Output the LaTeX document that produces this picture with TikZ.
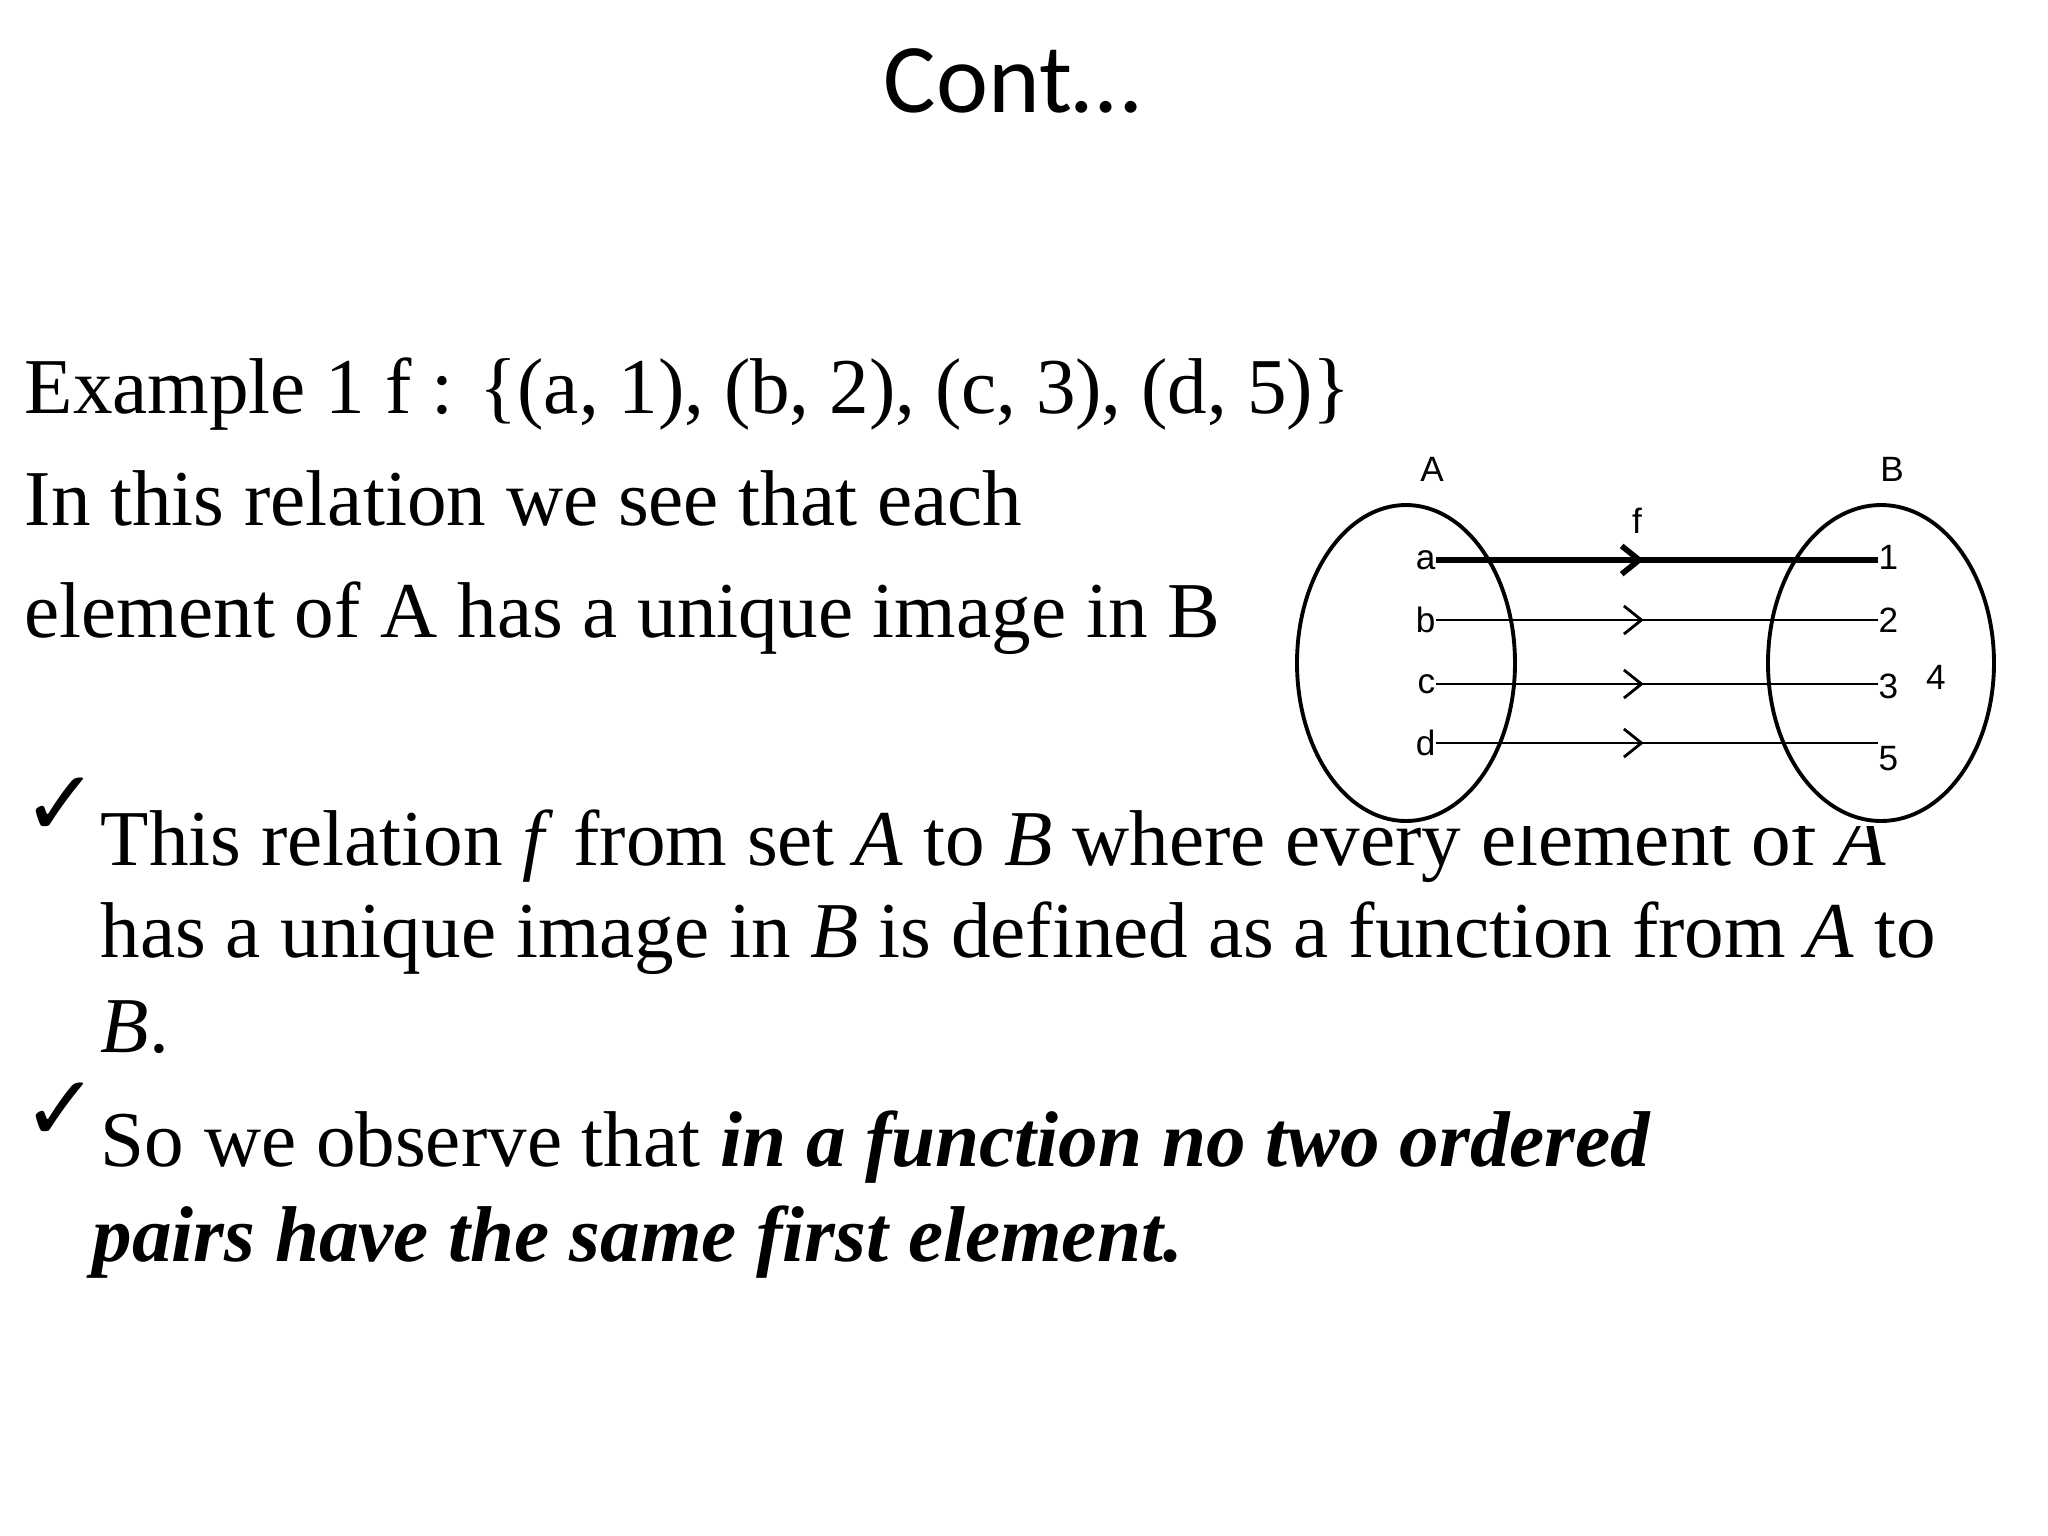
\documentclass[tikz,border=0pt]{standalone}
\usepackage{fontspec}
\setmainfont{Liberation Serif}
\newfontfamily\titlefont{Carlito}
\newfontfamily\diagfont{Liberation Sans}
\newfontfamily\symfont{DejaVu Sans}
\usetikzlibrary{decorations.markings,arrows.meta}
\begin{document}
\begin{tikzpicture}[x=0.01cm,y=-0.01cm,
  body/.style={anchor=base west,inner sep=0pt,font=\fontsize{22.5}{27}\selectfont},
  chk/.style={anchor=base west,inner sep=0pt,font=\symfont\fontsize{26}{30}\selectfont},
  lbl/.style={inner sep=0pt,font=\diagfont\fontsize{10}{12}\selectfont},
  maparrow/.style={draw,line width=0.8pt,postaction={decorate},
    decoration={markings,mark=at position 0.47 with {\arrow{Straight Barb[length=5pt,width=8pt]}}}}]
\useasboundingbox (0,0) rectangle (2048,1536);
\node[anchor=base,inner sep=0pt,font=\titlefont\fontsize{28}{33}\selectfont] (title) at (1012,112) {Cont…};
\node[body] (l1) at (24,413) {Example 1 f : \{(a, 1), (b, 2), (c, 3), (d, 5)\}};
\node[body] (l2) at (24,525) {In this relation we see that each};
\node[body] (l3) at (24,637) {element of A has a unique image in B};
\node[chk] (c1) at (22,835) {✓};
\node[body] (b1a) at (100,865) {This relation \textit{f} from set \textit{A} to \textit{B} where every element of \textit{A}};
\node[body] (b1b) at (100,957) {has a unique image in \textit{B} is defined as a function from \textit{A} to};
\node[body] (b1c) at (100,1052) {\textit{B}.};
\node[chk] (c2) at (22,1140) {✓};
\node[body] (b2a) at (100,1166) {So we observe that \textbf{\textit{in a function no two ordered}}};
\node[body] (b2b) at (92,1261) {\textbf{\textit{pairs have the same first element.}}};
% diagram
\fill[white] (1300,449) rectangle (2006,826);
\draw[line width=1.1pt] (1406,663) ellipse [x radius=109, y radius=158];
\draw[line width=1.1pt] (1881,663) ellipse [x radius=113, y radius=158];
\node[lbl] (A) at (1432,469) {A};
\node[lbl] (B) at (1892,469) {B};
\node[lbl] (f) at (1637,521) {f};
\node[lbl,anchor=east] (a) at (1436,560) {a};
\node[lbl,anchor=east] (b) at (1436,620) {b};
\node[lbl,anchor=east] (c) at (1436,684) {c};
\node[lbl,anchor=east] (d) at (1436,743) {d};
\node[lbl,anchor=west] (n1) at (1878,557) {1};
\node[lbl,anchor=west] (n2) at (1878,620) {2};
\node[lbl,anchor=west] (n3) at (1878,686) {3};
\node[lbl,anchor=west] (n5) at (1878,759) {5};
\node[lbl] (n4) at (1936,677) {4};
\path[maparrow,line width=1.6pt] (a.east) -- (a.east -| n1.west);
\path[maparrow] (b.east) -- (b.east -| n2.west);
\path[maparrow] (c.east) -- (c.east -| n3.west);
\path[maparrow] (d.east) -- (d.east -| n5.west);
\end{tikzpicture}
\end{document}
